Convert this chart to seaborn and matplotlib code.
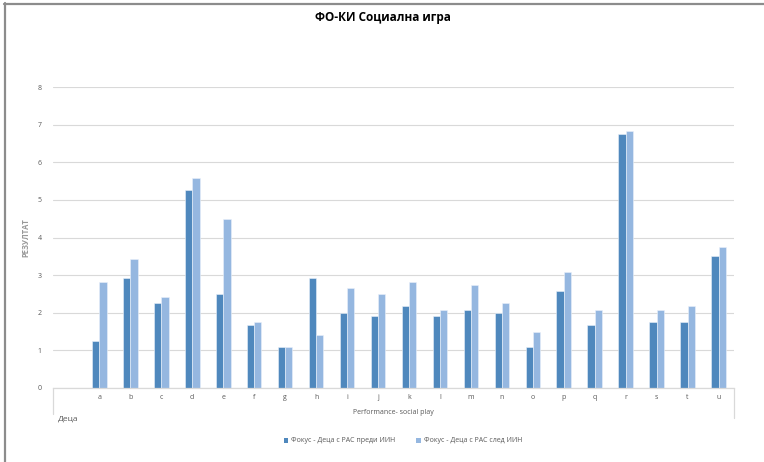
import matplotlib
matplotlib.use("Agg")
import matplotlib.pyplot as plt
from matplotlib.lines import Line2D
from matplotlib.patches import Patch
import numpy as np
import pandas as pd
import seaborn as sns

# Children (categories) and scores before / after the intervention
children = list("abcdefghijklmnopqrstu")
before = [1.25, 2.92, 2.25, 5.25, 2.50, 1.67, 1.08, 2.92, 2.00, 1.92, 2.17,
          1.92, 2.08, 2.00, 1.08, 2.58, 1.67, 6.75, 1.75, 1.75, 3.50]
after = [2.83, 3.42, 2.42, 5.58, 4.50, 1.75, 1.08, 1.42, 2.67, 2.50, 2.83,
         2.08, 2.75, 2.25, 1.50, 3.08, 2.08, 6.83, 2.08, 2.17, 3.75]
series_names = ["Фокус - Деца с РАС преди ИИН", "Фокус - Деца с РАС след ИИН"]
colors = ["#4f88bd", "#95b7e0"]
y_ticks = list(range(0, 9))

df = pd.DataFrame({
    "child": children * 2,
    "score": before + after,
    "series": [series_names[0]] * len(children) + [series_names[1]] * len(children),
})

sns.set_theme(style="white")
plt.rcParams["font.family"] = ["Open Sans", "DejaVu Sans"]

fig = plt.figure(figsize=(7.64, 4.62), dpi=100)
W, H = 764, 462
ax = fig.add_axes([53 / W, 1 - 388 / H, (734 - 53) / W, (388 - 87) / H])

sns.barplot(data=df, x="child", y="score", hue="series", order=children,
            hue_order=series_names, palette=colors, saturation=1, width=0.47,
            edgecolor="#eaf1fa", linewidth=0.4, legend=False, ax=ax)

ax.set_xlim(-1.5, len(children) - 0.5)
ax.set_ylim(0, 8)
ax.set_yticks(y_ticks)
ax.yaxis.grid(True, color="#d9d9d9", linewidth=0.8)
ax.set_axisbelow(True)
for side in ["left", "right", "top"]:
    ax.spines[side].set_visible(False)
ax.spines["bottom"].set_color("#d9d9d9")
ax.spines["bottom"].set_linewidth(0.9)
ax.tick_params(axis="both", length=0, labelsize=5, labelcolor="#595959", pad=4)
ax.tick_params(axis="y", pad=8)
ax.set_xlabel("")
ax.set_ylabel("РЕЗУЛТАТ", fontsize=5.5, color="#999999", fontweight="bold", labelpad=5)

# Multi-level category axis: separators and outer labels
ax.add_line(Line2D([0, 0], [0, -26 / 301], color="#d9d9d9", lw=0.9,
                   transform=ax.transAxes, clip_on=False))
ax.add_line(Line2D([1, 1], [0, -30 / 301], color="#d9d9d9", lw=0.9,
                   transform=ax.transAxes, clip_on=False))
ax.text(-1.35, -31 / 301 * 8, "Деца", fontsize=6, color="#595959",
        ha="left", va="center")
ax.text(9.5, -25 / 301 * 8, "Performance- social play", fontsize=5,
        color="#595959", ha="center", va="center")

fig.text(383 / W, 1 - 17 / H, "ФО-КИ Социална игра", ha="center", va="center",
         fontsize=8.5, fontweight="bold", color="#000000")

handles = [Patch(facecolor=c, edgecolor="none") for c in colors]
fig.legend(handles, series_names, loc="center", bbox_to_anchor=(403 / W, 1 - 441 / H),
           ncol=2, frameon=False, fontsize=5, labelcolor="#595959",
           handlelength=0.7, handleheight=0.7, handletextpad=0.4, columnspacing=3)

# Outer frame (left and top edges)
fig.add_artist(Line2D([4.5 / W, 4.5 / W], [0, 1 - 3 / H], color="#8c8c8c", lw=1.6,
                      transform=fig.transFigure))
fig.add_artist(Line2D([3.7 / W, 1], [1 - 4 / H, 1 - 4 / H], color="#8c8c8c", lw=1.6,
                      transform=fig.transFigure))

fig.savefig("out.png", dpi=100, facecolor="white")
